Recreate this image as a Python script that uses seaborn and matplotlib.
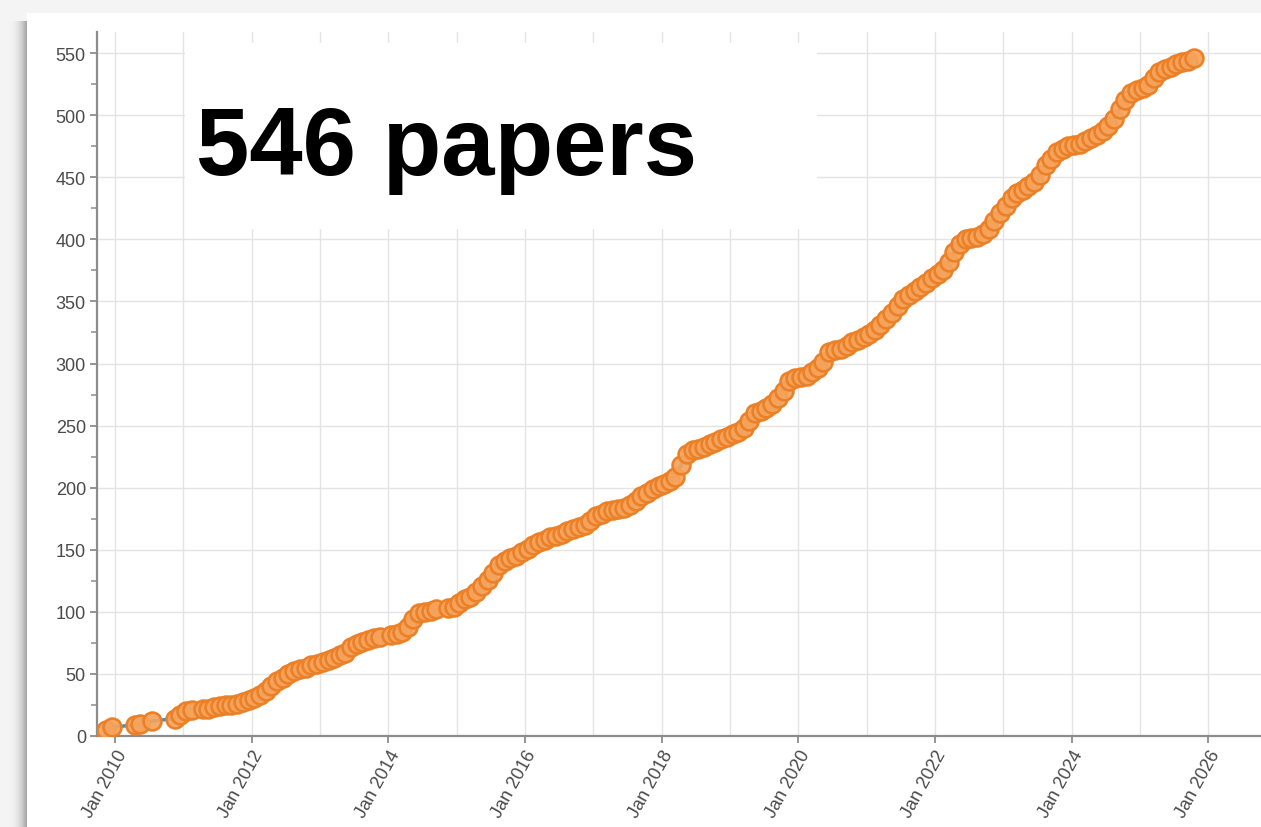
import matplotlib
matplotlib.use("Agg")
import matplotlib.pyplot as plt
import matplotlib.dates as mdates
from matplotlib.ticker import MultipleLocator
from matplotlib.patches import Rectangle
import numpy as np
import pandas as pd
import seaborn as sns

# ---- data: month with new papers, cumulative paper count ----
months = [
    "2009-11", "2009-12", "2010-04", "2010-05", "2010-07",
    "2010-11", "2010-12", "2011-01", "2011-02", "2011-04", "2011-05", "2011-06",
    "2011-07", "2011-08", "2011-09", "2011-10", "2011-11", "2011-12",
    "2012-01", "2012-02", "2012-03", "2012-04", "2012-05", "2012-06",
    "2012-07", "2012-08", "2012-09", "2012-10", "2012-11", "2012-12",
    "2013-01", "2013-02", "2013-03", "2013-04", "2013-05", "2013-06",
    "2013-07", "2013-08", "2013-09", "2013-10", "2013-11",
    "2014-01", "2014-02", "2014-03", "2014-04", "2014-05", "2014-06",
    "2014-07", "2014-08", "2014-09", "2014-11", "2014-12",
    "2015-01", "2015-02", "2015-03", "2015-04", "2015-05", "2015-06",
    "2015-07", "2015-08", "2015-09", "2015-10", "2015-11", "2015-12",
    "2016-01", "2016-02", "2016-03", "2016-04", "2016-05", "2016-06",
    "2016-07", "2016-08", "2016-09", "2016-10", "2016-11", "2016-12",
    "2017-01", "2017-02", "2017-03", "2017-04", "2017-05", "2017-06",
    "2017-07", "2017-08", "2017-09", "2017-10", "2017-11", "2017-12",
    "2018-01", "2018-02", "2018-03", "2018-04", "2018-05", "2018-06",
    "2018-07", "2018-08", "2018-09", "2018-10", "2018-11", "2018-12",
    "2019-01", "2019-02", "2019-03", "2019-04", "2019-05", "2019-06",
    "2019-07", "2019-08", "2019-09", "2019-10", "2019-11", "2019-12",
    "2020-01", "2020-02", "2020-03", "2020-04", "2020-05", "2020-06",
    "2020-07", "2020-08", "2020-09", "2020-10", "2020-11", "2020-12",
    "2021-01", "2021-02", "2021-03", "2021-04", "2021-05", "2021-06",
    "2021-07", "2021-08", "2021-09", "2021-10", "2021-11", "2021-12",
    "2022-01", "2022-02", "2022-03", "2022-04", "2022-05", "2022-06",
    "2022-07", "2022-08", "2022-09", "2022-10", "2022-11", "2022-12",
    "2023-01", "2023-02", "2023-03", "2023-04", "2023-05", "2023-06",
    "2023-07", "2023-08", "2023-09", "2023-10", "2023-11", "2023-12",
    "2024-01", "2024-02", "2024-03", "2024-04", "2024-05", "2024-06",
    "2024-07", "2024-08", "2024-09", "2024-10", "2024-11", "2024-12",
    "2025-01", "2025-02", "2025-03", "2025-04", "2025-05", "2025-06",
    "2025-07", "2025-08", "2025-09", "2025-10",
]
papers = [
    5, 7, 9, 10, 12,
    14, 17, 20, 21, 22, 22, 23,
    24, 25, 25, 26, 27, 29,
    31, 33, 36, 40, 44, 47,
    50, 52, 54, 55, 57, 58,
    60, 61, 63, 65, 67, 72,
    74, 76, 77, 79, 80,
    81, 82, 84, 88, 94, 99,
    100, 101, 102, 103, 104,
    107, 110, 112, 116, 121, 126,
    131, 138, 141, 143, 145, 148,
    151, 154, 156, 158, 160, 161,
    163, 165, 167, 168, 170, 173,
    177, 179, 181, 182, 183, 184,
    186, 189, 193, 196, 199, 201,
    203, 205, 209, 218, 227, 230,
    231, 233, 235, 237, 239, 241,
    243, 245, 248, 254, 260, 262,
    264, 267, 272, 278, 286, 288,
    289, 290, 293, 296, 301, 309,
    311, 312, 314, 317, 319, 321,
    324, 327, 331, 336, 341, 346,
    352, 355, 358, 362, 365, 369,
    372, 375, 382, 390, 396, 400,
    401, 402, 404, 408, 415, 421,
    427, 433, 437, 440, 443, 446,
    452, 460, 465, 470, 473, 475,
    476, 477, 479, 482, 484, 487,
    491, 497, 505, 512, 518, 520,
    522, 524, 530, 535, 537, 539,
    541, 543, 544, 546,
]
headline = "546 papers"
x_start, x_end = "2009-09-26", "2026-10-10"
y_max = 567

df = pd.DataFrame({"date": pd.to_datetime(months) + pd.Timedelta(days=14),
                   "papers": papers})

sns.set_theme(style="white")
plt.rcParams["font.family"] = ["Liberation Sans", "DejaVu Sans"]

W, H = 1261, 828
fig = plt.figure(figsize=(W / 100, H / 100), dpi=100, facecolor="#f4f4f4")

# card shadow (decoration)
def fx(px):
    return px / W
def fy(py):
    return 1 - py / H
for i in range(18):
    t = i / 17.0
    g = 0.95 - 0.30 * t ** 2.2
    fig.add_artist(Rectangle((fx(9 + i), 0), fx(1), fy(22), transform=fig.transFigure,
                             facecolor=(g, g, g), edgecolor="none", zorder=0))
fig.add_artist(Rectangle((fx(27), 0), 1, fy(14), transform=fig.transFigure,
                         facecolor="white", edgecolor="none", zorder=0))

ax = fig.add_axes([fx(97), fy(737), fx(W - 97), (737 - 33) / H])
ax.set_facecolor("none")

sns.lineplot(data=df, x="date", y="papers", ax=ax, color="#3a8fd0",
             linewidth=2.5, zorder=3)
sns.scatterplot(data=df, x="date", y="papers", ax=ax, s=165,
                facecolor=(0.96, 0.64, 0.36, 0.92), edgecolor="#ec8026",
                linewidth=1.9, zorder=4)

ax.set_xlim(pd.Timestamp(x_start), pd.Timestamp(x_end))
ax.set_ylim(0, y_max)
ax.set_xlabel("")
ax.set_ylabel("")

ax.xaxis.set_major_locator(mdates.YearLocator(2))
ax.xaxis.set_major_formatter(mdates.DateFormatter("Jan %Y"))
ax.xaxis.set_minor_locator(mdates.YearLocator(1))
ax.yaxis.set_major_locator(MultipleLocator(50))
ax.yaxis.set_minor_locator(MultipleLocator(25))

ax.grid(True, which="both", axis="x", color="#e4e4e4", linewidth=1)
ax.grid(True, which="major", axis="y", color="#e4e4e4", linewidth=1)
ax.set_axisbelow(True)

for side in ("top", "right"):
    ax.spines[side].set_visible(False)
for side in ("left", "bottom"):
    ax.spines[side].set_color("#8c8c8c")
    ax.spines[side].set_linewidth(1.6)

ax.tick_params(axis="y", which="major", length=5, width=1.3, color="#8c8c8c",
               labelsize=13, labelcolor="#4a4a4a", pad=3, left=True)
ax.tick_params(axis="y", which="minor", length=4, width=1.1, color="#8c8c8c", left=True)
ax.tick_params(axis="x", which="major", length=5, width=1.3, color="#8c8c8c",
               labelsize=13, labelcolor="#4a4a4a", pad=3, bottom=True)
ax.tick_params(axis="x", which="minor", length=0)
for lab in ax.get_xticklabels():
    lab.set_rotation(61)
    lab.set_ha("right")
    lab.set_va("top")
    lab.set_rotation_mode("anchor")

# white box behind headline
ax.add_patch(Rectangle((fx(185), fy(230)), fx(817 - 185), (230 - 44) / H,
                       transform=fig.transFigure, facecolor="white",
                       edgecolor="none", zorder=2))
fig.text(fx(196), fy(175), headline, fontsize=69, fontweight="bold",
         color="black", ha="left", va="baseline", zorder=5)

fig.savefig("out.png", dpi=100, facecolor=fig.get_facecolor())
